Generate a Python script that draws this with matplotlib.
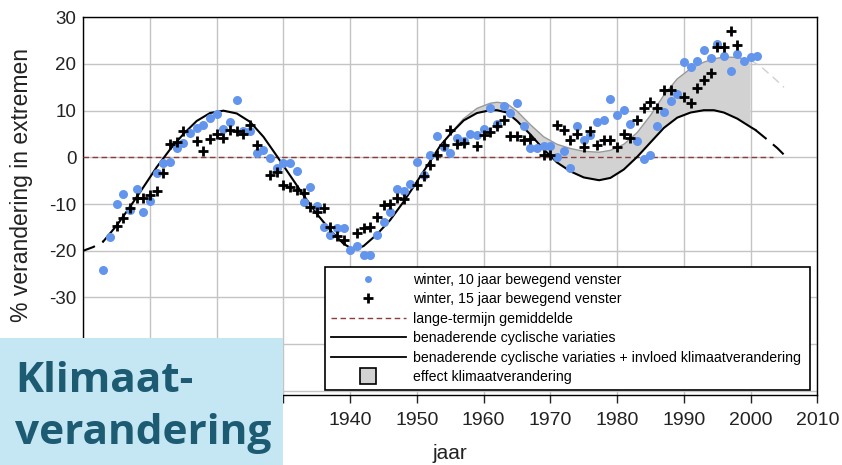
import numpy as np
import matplotlib
matplotlib.use("Agg")
import matplotlib.pyplot as plt
from matplotlib.lines import Line2D
from matplotlib.patches import Rectangle

plt.rcParams['font.family'] = ['Liberation Sans', 'DejaVu Sans']
plt.rcParams['axes.unicode_minus'] = False

# ------ data: winter, 10 jaar bewegend venster (blauwe punten) ------
jaren_10 = list(range(1903, 2002))
waarden_10 = [-24.1, -17.1, -9.9, -7.9, -11.2, -6.7, -11.7, -9.4, -3.4, -1.2,
              -0.9, 1.9, 3.1, 5.2, 6.3, 7.0, 8.4, 9.2, 6.1, 7.6,
              12.2, 5.7, 5.6, 0.9, 1.6, -0.2, -2.2, -1.3, -1.3, -2.9,
              -9.5, -6.3, -10.4, -14.9, -16.6, -15.2, -15.1, -19.8, -19.0, -21.0,
              -20.9, -16.6, -13.8, -11.8, -6.8, -7.1, -5.8, -0.9, -3.8, 0.6,
              4.5, 2.3, 1.0, 4.2, 3.5, 4.9, 4.8, 6.1, 10.5, 7.1,
              11.1, 9.4, 11.6, 6.8, 2.1, 1.9, 2.5, 2.4, 0.1, 1.3,
              -2.2, 6.8, 3.7, 4.8, 7.5, 8.0, 12.6, 9.1, 10.1, 7.1,
              3.4, -0.3, 0.5, 6.7, 9.8, 12.1, 13.5, 20.5, 19.4, 20.6,
              23.1, 21.3, 24.2, 21.8, 18.5, 22.1, 20.6, 21.6, 21.8]

# ------ data: winter, 15 jaar bewegend venster (zwarte kruisjes) ------
jaren_15 = [1905, 1906, 1907, 1908, 1909, 1910, 1911, 1912, 1913, 1914,
            1915, 1917, 1918, 1919, 1920, 1921, 1922, 1923, 1924, 1925,
            1926, 1928, 1929, 1930, 1931, 1932, 1933, 1934, 1935, 1936,
            1937, 1938, 1939, 1941, 1942, 1943, 1944, 1945, 1946, 1947,
            1948, 1950, 1951, 1952, 1953, 1954, 1955, 1956, 1957, 1959,
            1960, 1961, 1962, 1963, 1964, 1965, 1966, 1967, 1969, 1970,
            1971, 1972, 1973, 1974, 1975, 1976, 1977, 1978, 1979, 1980,
            1981, 1982, 1983, 1984, 1985, 1986, 1987, 1988, 1990, 1991,
            1992, 1993, 1994, 1995, 1996, 1997, 1998]
waarden_15 = [-14.7, -13.0, -10.9, -8.7, -8.6, -8.1, -7.2, -3.4, 2.9, 3.2,
              5.6, 3.5, 1.4, 3.9, 5.1, 4.1, 5.9, 5.6, 5.1, 6.9,
              2.7, -3.8, -3.1, -5.9, -6.3, -6.9, -7.7, -10.6, -11.8, -10.8,
              -14.9, -16.8, -17.7, -16.1, -15.2, -14.9, -12.8, -10.1, -9.9, -8.6,
              -8.9, -5.9, -4.0, -1.6, 0.5, 2.6, 5.9, 2.9, 3.0, 2.4,
              4.8, 5.4, 6.8, 7.9, 4.6, 4.6, 3.7, 4.0, 0.5, 0.6,
              6.9, 5.9, 3.8, 4.9, 2.3, 5.7, 2.6, 3.7, 3.7, 2.2,
              5.0, 4.1, 7.9, 10.5, 11.9, 10.5, 14.5, 14.5, 13.0, 11.7,
              14.8, 16.5, 18.0, 23.6, 23.7, 27.1, 24.1]

# ------ benaderende cyclische variaties ------
cyc_jaren = [1903, 1905, 1907, 1909, 1911, 1913, 1915, 1917, 1919, 1921,
             1923, 1925, 1927, 1929, 1931, 1933, 1935, 1937, 1939, 1940.5,
             1942, 1944, 1946, 1948, 1950, 1952, 1953.5, 1955, 1957, 1959,
             1961, 1962, 1963.5, 1965, 1967, 1969, 1971, 1973, 1975, 1977.3,
             1979, 1981, 1983, 1985, 1987, 1989, 1991, 1993, 1994.5, 1996,
             1998, 2000, 2000.7]
cyc_waarden = [-18.0, -14.6, -10.6, -6.4, -2.1, 1.7, 5.0, 7.8, 9.5, 10.0,
               9.4, 7.6, 4.4, 0.3, -3.9, -8.1, -12.1, -15.6, -18.5, -19.8,
               -19.0, -16.5, -13.4, -9.5, -5.2, -0.8, 2.5, 5.0, 7.9, 9.5,
               10.1, 10.1, 9.6, 7.8, 4.9, 1.7, -1.1, -3.0, -4.3, -4.9,
               -4.4, -2.6, 0.1, 3.2, 6.3, 8.5, 9.6, 10.1, 10.1, 9.6,
               8.3, 6.5, 5.9]
cyc_begin_jaren = [1900, 1901.5, 1903]
cyc_begin_waarden = [-20.0, -19.2, -18.0]
cyc_eind_jaren = [2000.7, 2002.5, 2004, 2005.4]
cyc_eind_waarden = [5.9, 3.8, 2.0, 0.0]

# ------ cyclische variaties + invloed klimaatverandering ------
klim_jaren = [1955, 1957, 1959, 1961, 1962, 1963.5, 1965, 1967, 1969, 1971,
              1973, 1975, 1977.3, 1979, 1981, 1983, 1985, 1987, 1989, 1991,
              1993, 1994.5, 1996, 1998, 2000]
klim_waarden = [5.1, 8.3, 10.5, 11.6, 11.8, 11.5, 9.9, 7.0, 4.4, 2.8,
                1.9, 1.3, 1.1, 1.5, 2.8, 5.3, 9.0, 13.3, 16.8, 19.0,
                20.4, 21.1, 21.5, 21.4, 20.8]
klim_eind_jaren = [2000, 2001.5, 2003.5, 2005]
klim_eind_waarden = [20.8, 19.5, 17.0, 15.0]

# lange-termijn gemiddelde
gem_jaren = [1900, 2003.3]
gem_waarden = [0, 0]

x_ticks = list(range(1900, 2011, 10))
x_labels = ['', '', '', '', '1940', '1950', '1960', '1970', '1980', '1990', '2000', '2010']
y_ticks = list(range(-50, 31, 10))
y_labels = ['', '', '-30', '-20', '-10', '0', '10', '20', '30']

W, H = 842, 465
fig = plt.figure(figsize=(W / 100, H / 100), dpi=100)
ax = fig.add_axes([83.3 / W, 1 - 395 / H, (817.3 - 83.3) / W, (395 - 17.3) / H])

ax.set_xlim(1900, 2010)
ax.set_ylim(-50.9, 30)
ax.set_xticks(x_ticks, x_labels)
ax.set_yticks(y_ticks, y_labels)
ax.grid(True, color='#c4c4c4', lw=1.0)
ax.set_axisbelow(True)
for s in ax.spines.values():
    s.set_linewidth(1.0)
    s.set_color('black')
ax.tick_params(axis='x', direction='out', length=6, width=1, pad=6, labelsize=14, colors='#222222')
ax.tick_params(axis='y', length=0, pad=5, labelsize=13.5, colors='#222222')

# effect klimaatverandering (grijs vlak)
cyc_arr_x = np.array(cyc_jaren)
cyc_arr_y = np.array(cyc_waarden)
sel = (cyc_arr_x >= klim_jaren[0]) & (cyc_arr_x <= klim_jaren[-1])
poly_x = list(klim_jaren) + list(cyc_arr_x[sel][::-1])
poly_y = list(klim_waarden) + list(cyc_arr_y[sel][::-1])
ax.fill(poly_x, poly_y, color='#d2d2d2', lw=0, zorder=2)
ax.plot(klim_jaren, klim_waarden, color='#9a9a9a', lw=1.0, zorder=3)
ax.plot(klim_eind_jaren, klim_eind_waarden, color='#cfcfcf', lw=1.0, dashes=(6, 4), zorder=3)

ax.plot(gem_jaren, gem_waarden, color='#8c3c3c', lw=1.0, dashes=(4, 2.5), zorder=4)

ax.plot(cyc_jaren, cyc_waarden, color='black', lw=1.5, zorder=4)
ax.plot(cyc_begin_jaren, cyc_begin_waarden, color='black', lw=1.5, dashes=(6, 4), zorder=4)
ax.plot(cyc_eind_jaren, cyc_eind_waarden, color='black', lw=1.5, dashes=(7, 4), zorder=4)

ax.plot(jaren_10, waarden_10, 'o', color='#6495ed', ms=6.5, mew=0, zorder=5)
ax.plot(jaren_15, waarden_15, '+', color='black', ms=7.5, mew=2.0, zorder=6)

ax.set_xlabel('jaar', fontsize=15, color='#222222', labelpad=11)
fig.text(22 / W, 1 - 185 / H, '% verandering in extremen', rotation=90,
         ha='center', va='center', fontsize=16.5, color='#222222')

handles = [
    Line2D([], [], ls='none', marker='o', color='#6495ed', ms=5, mew=0),
    Line2D([], [], ls='none', marker='+', color='black', ms=7, mew=2),
    Line2D([], [], color='#8c3c3c', lw=1.0, dashes=(4, 2.5)),
    Line2D([], [], color='black', lw=1.3),
    Line2D([], [], color='black', lw=1.3),
    Line2D([], [], ls='none', marker='s', ms=11, mfc='#d2d2d2', mec='black', mew=1.2),
]
labels = ['winter, 10 jaar bewegend venster',
          'winter, 15 jaar bewegend venster',
          'lange-termijn gemiddelde',
          'benaderende cyclische variaties',
          'benaderende cyclische variaties + invloed klimaatverandering',
          'effect klimaatverandering']
leg = ax.legend(handles, labels, loc='upper left', mode='expand',
                bbox_to_anchor=(325 / W, 0, (810 - 325) / W, 1 - 267 / H),
                bbox_transform=fig.transFigure, borderaxespad=0,
                fontsize=10.2, handlelength=5.3, handletextpad=0.5,
                labelspacing=0.39, borderpad=0.4, fancybox=False,
                framealpha=1, edgecolor='black', numpoints=1)
leg.get_frame().set_linewidth(1.2)
leg.set_zorder(20)

# blauw vlak met titel
fig.add_artist(Rectangle((0, 0), 283 / W, 127 / H, transform=fig.transFigure,
                         facecolor='#c5e7f3', edgecolor='none', zorder=30))
fig.text(15 / W, 1 - 392 / H, 'Klimaat-', fontsize=30.5, weight='bold',
         family=['Open Sans', 'DejaVu Sans'], color='#1d5b73', va='baseline', zorder=31)
fig.text(15 / W, 1 - 444 / H, 'verandering', fontsize=30.5, weight='bold',
         family=['Open Sans', 'DejaVu Sans'], color='#1d5b73', va='baseline', zorder=31)

fig.savefig('out.png', dpi=100)
